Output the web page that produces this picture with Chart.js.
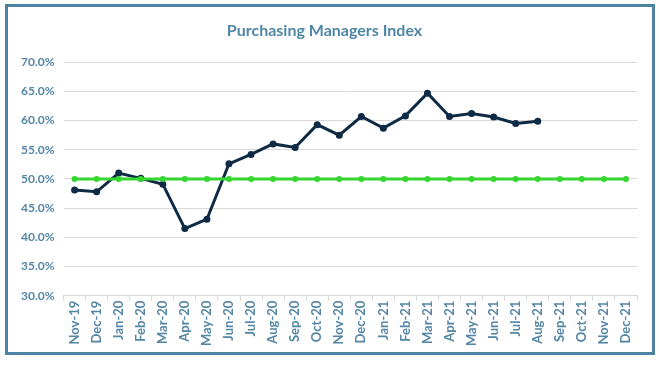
<!DOCTYPE html>
<html>
<head>
<meta charset="utf-8">
<script src="https://cdn.jsdelivr.net/npm/chart.js@4.4.0/dist/chart.umd.min.js"></script>
<style>
  html, body { margin: 0; padding: 0; background: #fff; }
  #frame {
    position: absolute; left: 5px; top: 4px;
    width: 644px; height: 345px;
    border: 3px solid #4d82a3;
  }
  #pmiChart { display: block; }
</style>
</head>
<body>
<div id="frame"><canvas id="pmiChart" width="644" height="345"></canvas></div>
<script>
const months = [
  'Nov-19', 'Dec-19', 'Jan-20', 'Feb-20', 'Mar-20', 'Apr-20', 'May-20', 'Jun-20',
  'Jul-20', 'Aug-20', 'Sep-20', 'Oct-20', 'Nov-20', 'Dec-20', 'Jan-21', 'Feb-21',
  'Mar-21', 'Apr-21', 'May-21', 'Jun-21', 'Jul-21', 'Aug-21', 'Sep-21', 'Oct-21',
  'Nov-21', 'Dec-21'
];
const pmiValues = [
  48.1, 47.8, 51.0, 50.1, 49.1, 41.5, 43.1, 52.6, 54.2, 56.0, 55.4, 59.3, 57.5,
  60.7, 58.7, 60.8, 64.7, 60.7, 61.2, 60.6, 59.5, 59.9
];
const thresholdValues = [
  50, 50, 50, 50, 50, 50, 50, 50, 50, 50, 50, 50, 50,
  50, 50, 50, 50, 50, 50, 50, 50, 50, 50, 50, 50, 50
];

const textColor = '#5486a6';
const gridColor = '#d9d9d9';

const ctx = document.getElementById('pmiChart').getContext('2d');
const chart = new Chart(ctx, {
  type: 'line',
  data: {
    labels: months,
    datasets: [
      {
        label: 'Threshold',
        data: thresholdValues,
        borderColor: '#35d62f',
        backgroundColor: '#35d62f',
        borderWidth: 3,
        pointRadius: 3,
        pointBorderWidth: 0,
        order: 0,
      },
      {
        label: 'PMI',
        data: pmiValues,
        borderColor: '#0f2a44',
        backgroundColor: '#0f2a44',
        borderWidth: 3,
        pointRadius: 3.5,
        pointBorderWidth: 0,
        order: 1,
      },
    ],
  },
  options: {
    responsive: false,
    animation: false,
    layout: { padding: { left: 4, right: 15, top: 4, bottom: 6 } },
    plugins: {
      legend: { display: false },
      tooltip: { enabled: false },
      title: {
        display: true,
        text: 'Purchasing Managers Index',
        color: '#4f86a6',
        font: { family: 'Lato', size: 16, weight: 'bold' },
        padding: { top: 10, bottom: 22 },
      },
    },
    scales: {
      x: {
        offset: true,
        grid: {
          display: true,
          drawOnChartArea: false,
          drawTicks: true,
          tickLength: 5,
          offset: true,
          color: gridColor,
        },
        border: { display: true, color: gridColor },
        ticks: {
          color: textColor,
          font: { family: 'Lato', size: 13, weight: 'bold' },
          minRotation: 90,
          maxRotation: 90,
          autoSkip: false,
          padding: 0,
        },
      },
      y: {
        min: 30,
        max: 70,
        grid: { color: gridColor, drawTicks: false },
        border: { display: false },
        ticks: {
          stepSize: 5,
          color: textColor,
          font: { family: 'Lato', size: 12, weight: 'bold' },
          padding: 9,
          callback: (v) => v.toFixed(1) + '%',
        },
      },
    },
  },
});
</script>
</body>
</html>
